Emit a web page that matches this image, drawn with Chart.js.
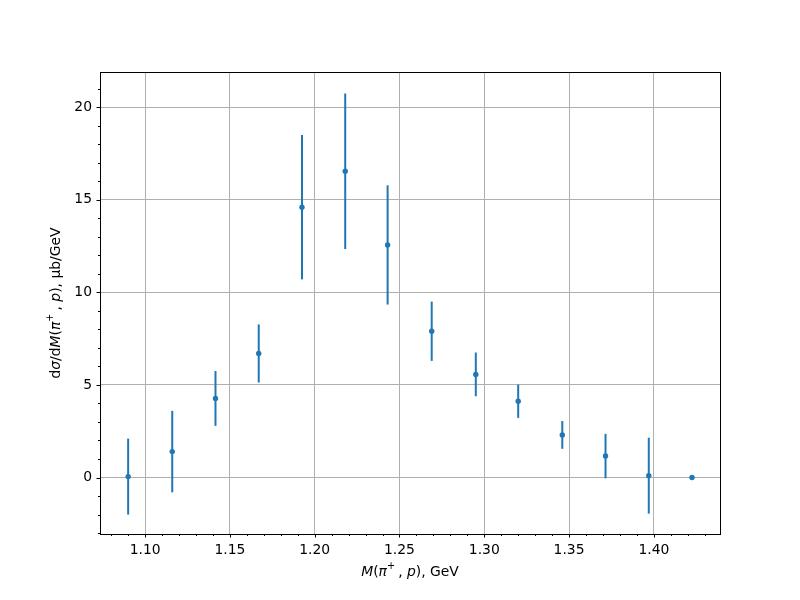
<!DOCTYPE html>
<html>
<head>
<meta charset="utf-8">
<script src="https://cdn.jsdelivr.net/npm/chart.js@4/dist/chart.umd.min.js"></script>
<style>
  html, body { margin: 0; padding: 0; background: #fff; }
  #wrap { width: 800px; height: 600px; }
</style>
</head>
<body>
<div id="wrap"><canvas id="chart" width="800" height="600"></canvas></div>
<script>
// invariant mass bins (GeV) and cross-section values with errors
const massValues = [1.090, 1.116, 1.1415, 1.167, 1.1925, 1.218, 1.243, 1.269, 1.295, 1.320, 1.346, 1.3715, 1.397, 1.4225];
const sigmaValues = [0.05, 1.4, 4.27, 6.7, 14.6, 16.54, 12.56, 7.9, 5.57, 4.12, 2.3, 1.16, 0.1, 0.0];
const sigmaErrors = [2.05, 2.2, 1.48, 1.57, 3.9, 4.2, 3.22, 1.6, 1.18, 0.9, 0.75, 1.2, 2.05, 0.0];

const xTicks = [1.10, 1.15, 1.20, 1.25, 1.30, 1.35, 1.40];
const yTicks = [0, 5, 10, 15, 20];

const blue = '#1f77b4';
const font = '"DejaVu Sans", sans-serif';

const points = massValues.map((m, i) => ({ x: m, y: sigmaValues[i] }));

// draws text pieces with italic / superscript parts
function drawRich(ctx, parts, size) {
  let total = 0;
  parts.forEach(p => {
    const s = p.sup ? size * 0.7 : size;
    ctx.font = (p.it ? 'italic ' : '') + s + 'px ' + font;
    p.w = ctx.measureText(p.t).width;
    total += p.w;
  });
  let x = -total / 2;
  parts.forEach(p => {
    const s = p.sup ? size * 0.7 : size;
    ctx.font = (p.it ? 'italic ' : '') + s + 'px ' + font;
    ctx.fillText(p.t, x, p.sup ? -size * 0.4 : 0);
    x += p.w;
  });
}

const errorBars = {
  id: 'errorBars',
  beforeDatasetsDraw(chart) {
    const { ctx, scales: { x, y } } = chart;
    ctx.save();
    ctx.strokeStyle = blue;
    ctx.lineWidth = 2;
    massValues.forEach((m, i) => {
      if (!sigmaErrors[i]) return;
      const px = x.getPixelForValue(m);
      ctx.beginPath();
      ctx.moveTo(px, y.getPixelForValue(sigmaValues[i] - sigmaErrors[i]));
      ctx.lineTo(px, y.getPixelForValue(sigmaValues[i] + sigmaErrors[i]));
      ctx.stroke();
    });
    ctx.restore();
  },
  afterDraw(chart) {
    const { ctx, chartArea: a, scales: { x, y } } = chart;
    ctx.save();
    ctx.strokeStyle = '#000';
    ctx.lineWidth = 1;
    ctx.strokeRect(Math.round(a.left) + 0.5, Math.round(a.top) + 0.5,
      Math.round(a.right - a.left), Math.round(a.bottom - a.top));

    // tick marks, major and minor
    ctx.beginPath();
    for (let k = 108; k <= 143; k++) {
      const v = k / 100;
      if (v < x.min || v > x.max) continue;
      const len = k % 5 === 0 ? 3.5 : 2;
      const px = Math.round(x.getPixelForValue(v)) + 0.5;
      ctx.moveTo(px, a.bottom);
      ctx.lineTo(px, a.bottom + len);
    }
    for (let v = -3; v <= 21; v++) {
      if (v < y.min || v > y.max) continue;
      const len = v % 5 === 0 ? 3.5 : 2;
      const py = Math.round(y.getPixelForValue(v)) + 0.5;
      ctx.moveTo(a.left, py);
      ctx.lineTo(a.left - len, py);
    }
    ctx.stroke();

    // axis titles
    ctx.fillStyle = '#000';
    ctx.textBaseline = 'middle';
    ctx.textAlign = 'left';
    ctx.save();
    ctx.translate((a.left + a.right) / 2, 572);
    drawRich(ctx, [
      { t: 'M', it: true }, { t: '(' }, { t: 'π', it: true }, { t: '+ ', sup: true },
      { t: ', ' }, { t: 'p', it: true }, { t: '), GeV' }
    ], 13.9);
    ctx.restore();
    ctx.save();
    ctx.translate(56, (a.top + a.bottom) / 2);
    ctx.rotate(-Math.PI / 2);
    drawRich(ctx, [
      { t: 'd' }, { t: 'σ', it: true }, { t: '/d' }, { t: 'M', it: true }, { t: '(' },
      { t: 'π', it: true }, { t: '+ ', sup: true }, { t: ', ' }, { t: 'p', it: true },
      { t: '), μb/GeV' }
    ], 13.9);
    ctx.restore();
    ctx.restore();
  }
};

new Chart(document.getElementById('chart'), {
  type: 'scatter',
  data: {
    datasets: [{
      data: points,
      backgroundColor: blue,
      borderColor: blue,
      borderWidth: 0,
      pointRadius: 2.7,
      pointHoverRadius: 2.7,
      showLine: false
    }]
  },
  options: {
    responsive: false,
    animation: false,
    layout: { padding: { top: 72, right: 80, left: 0, bottom: 0 } },
    plugins: { legend: { display: false }, tooltip: { enabled: false } },
    scales: {
      x: {
        type: 'linear',
        min: 1.0734,
        max: 1.439,
        afterFit: s => { s.height = 66; },
        afterBuildTicks: s => { s.ticks = xTicks.map(v => ({ value: v })); },
        grid: { color: '#b0b0b0', lineWidth: 1, drawTicks: false },
        border: { display: false },
        ticks: {
          padding: 8,
          color: '#000',
          font: { family: font, size: 13.9 },
          callback: v => v.toFixed(2)
        }
      },
      y: {
        type: 'linear',
        min: -3.05,
        max: 21.9,
        afterFit: s => { s.width = 100; },
        afterBuildTicks: s => { s.ticks = yTicks.map(v => ({ value: v })); },
        grid: { color: '#b0b0b0', lineWidth: 1, drawTicks: false },
        border: { display: false },
        ticks: {
          padding: 8,
          color: '#000',
          font: { family: font, size: 13.9 },
          callback: v => String(v)
        }
      }
    }
  },
  plugins: [errorBars]
});
</script>
</body>
</html>
